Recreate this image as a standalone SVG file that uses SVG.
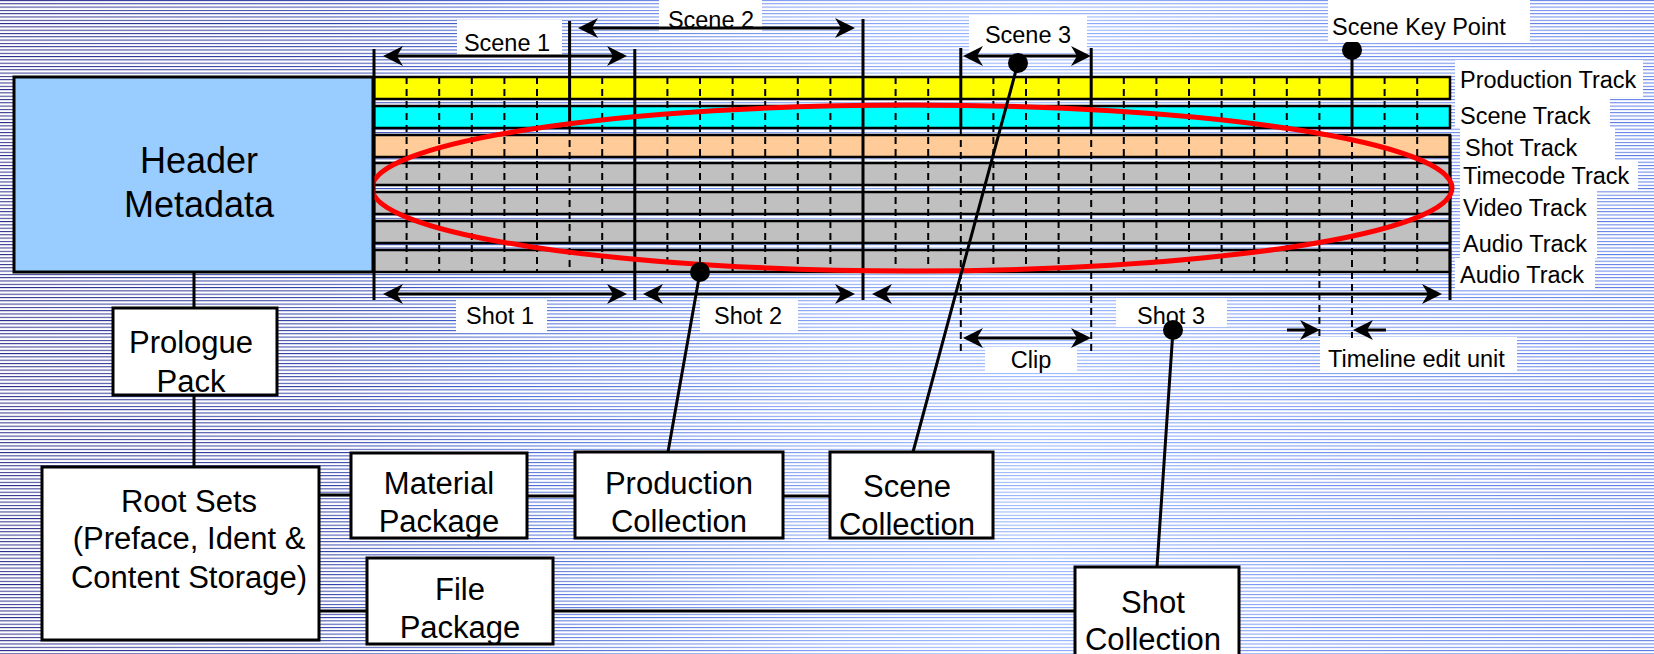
<svg xmlns="http://www.w3.org/2000/svg" width="1654" height="654" viewBox="0 0 1654 654">
<style>
text{font-family:"Liberation Sans",Arial,Helvetica,sans-serif;fill:#000}
.big{font-size:36px;text-anchor:middle}
.box{font-size:31px;text-anchor:middle}
.lbl{font-size:23.5px}
.mid{text-anchor:middle}
.nb{fill:#fff;stroke:#000;stroke-width:3}
.wb{fill:#fff}
.trk{stroke:#000;stroke-width:2.5}
.ln{stroke:#000;stroke-width:3;fill:none}
.dash{stroke:#000;stroke-width:2;fill:none;stroke-dasharray:7 5}
.arr{stroke:#000;stroke-width:3;fill:none;marker-start:url(#ah);marker-end:url(#ah)}
.arr1{stroke:#000;stroke-width:3;fill:none;marker-end:url(#ah)}
.dot{fill:#000}
</style>
<defs>
<linearGradient id="bgGrad" x1="0" y1="0" x2="1" y2="0">
<stop offset="0" stop-color="#2a2a8a"/>
<stop offset="0.2" stop-color="#3040a8"/>
<stop offset="0.3" stop-color="#4262d2"/>
<stop offset="0.5" stop-color="#7f9ff5"/>
<stop offset="0.62" stop-color="#8fb0ff"/>
<stop offset="0.8" stop-color="#7090f0"/>
<stop offset="1" stop-color="#5a7ae6"/>
</linearGradient>
<pattern id="stripes" patternUnits="userSpaceOnUse" width="20" height="3.3">
<rect x="0" y="1" width="20" height="2.3" fill="#fff"/>
</pattern>
<marker id="ah" viewBox="0 -10 20 20" refX="14" refY="0" markerWidth="20" markerHeight="20" markerUnits="userSpaceOnUse" orient="auto-start-reverse">
<path d="M20,0 L0,-10 L6,0 L0,10 Z" fill="#000"/>
</marker>
</defs>

<g id="background">
<rect x="0" y="0" width="1654" height="654" fill="url(#bgGrad)"/>
<rect x="0" y="0" width="1654" height="654" fill="url(#stripes)"/>
</g>

<g id="label-backgrounds">
<rect class="wb" x="457" y="20" width="105" height="35"/>
<rect class="wb" x="659" y="0" width="103" height="33"/>
<rect class="wb" x="969" y="15" width="118" height="38"/>
<rect class="wb" x="1455" y="60" width="188" height="37"/>
<rect class="wb" x="1455" y="97" width="155" height="31"/>
<rect class="wb" x="1460" y="128" width="155" height="32"/>
<rect class="wb" x="1460" y="160" width="178" height="30"/>
<rect class="wb" x="1460" y="190" width="137" height="35"/>
<rect class="wb" x="1460" y="225" width="137" height="33"/>
<rect class="wb" x="1455" y="258" width="140" height="32"/>
<rect class="wb" x="456" y="299" width="91" height="33"/>
<rect class="wb" x="700" y="299" width="98" height="33"/>
<rect class="wb" x="1116" y="298" width="111" height="29"/>
<rect class="wb" x="985" y="347" width="92" height="26"/>
<rect class="wb" x="1320" y="337" width="197" height="36"/>
</g>

<g id="tracks">
<rect class="trk" x="374" y="77" width="1076" height="22" fill="#ffff00"/>
<rect class="trk" x="374" y="106" width="1076" height="22" fill="#00ffff"/>
<rect class="trk" x="374" y="135" width="1076" height="22" fill="#ffcc99"/>
<rect class="trk" x="374" y="163" width="1076" height="22" fill="#c0c0c0"/>
<rect class="trk" x="374" y="192" width="1076" height="22" fill="#c0c0c0"/>
<rect class="trk" x="374" y="221" width="1076" height="22" fill="#c0c0c0"/>
<rect class="trk" x="374" y="250" width="1076" height="22" fill="#c0c0c0"/>
</g>

<g id="grid">
<path class="dash" d="M406.6 77V273 M439.2 77V273 M471.8 77V273 M504.4 77V273 M537 77V273 M569.6 128V273 M602.2 77V273 M667.4 77V273 M700 77V273 M732.6 77V273 M765.2 77V273 M797.8 77V273 M830.4 77V273 M895.6 77V273 M928.2 77V273 M960.8 128V352 M993.4 77V273 M1026 77V273 M1058.6 77V273 M1091.2 128V352 M1123.8 77V273 M1156.4 77V273 M1189 77V273 M1221.6 77V273 M1254.2 77V273 M1286.8 77V273 M1319.4 77V338 M1352 128V338 M1384.6 77V273 M1417.2 77V273"/>
<path class="ln" d="M374 49V300 M569.6 21V128 M634.8 49V300 M863 19V300 M960.8 48V128 M1091.2 48V128 M1450 135V300"/>
</g>

<g id="highlight">
<ellipse cx="912" cy="188" rx="540" ry="83" fill="none" stroke="#ff0000" stroke-width="5"/>
</g>

<g id="dimensions">
<line class="arr" x1="389" y1="56" x2="621" y2="56"/>
<line class="arr" x1="584" y1="28" x2="849" y2="28"/>
<line class="arr" x1="969" y1="56" x2="1085" y2="56"/>
<line class="arr" x1="389" y1="294" x2="621" y2="294"/>
<line class="arr" x1="649" y1="294" x2="849" y2="294"/>
<line class="arr" x1="878" y1="294" x2="1436" y2="294"/>
<line class="arr" x1="969" y1="338" x2="1085" y2="338"/>
<line class="arr1" x1="1287" y1="330" x2="1314" y2="330"/>
<line class="arr1" x1="1386" y1="330" x2="1359" y2="330"/>
</g>

<g id="timeline-labels">
<text class="lbl mid" x="507" y="51">Scene 1</text>
<text class="lbl mid" x="711" y="28">Scene 2</text>
<text class="lbl mid" x="1028" y="43">Scene 3</text>
<text class="lbl" x="1460" y="88">Production Track</text>
<text class="lbl" x="1460" y="124">Scene Track</text>
<text class="lbl" x="1465" y="156">Shot Track</text>
<text class="lbl" x="1463" y="184">Timecode Track</text>
<text class="lbl" x="1463" y="216">Video Track</text>
<text class="lbl" x="1463" y="252">Audio Track</text>
<text class="lbl" x="1460" y="283">Audio Track</text>
<text class="lbl mid" x="500" y="324">Shot 1</text>
<text class="lbl mid" x="748" y="324">Shot 2</text>
<text class="lbl mid" x="1171" y="324">Shot 3</text>
<text class="lbl mid" x="1031" y="368">Clip</text>
<text class="lbl" x="1328" y="367">Timeline edit unit</text>
</g>

<g id="connectors">
<path class="ln" d="M194 272V308 M194 395V467 M319 495H351 M527 496H575 M783 496H830 M319 611H367 M553 611H1075"/>
<path class="ln" d="M700 272L668 452 M1018 63L913 452 M1173 330L1157 567 M1352 50V128"/>
<circle class="dot" cx="700" cy="272" r="10"/>
<circle class="dot" cx="1018" cy="63" r="10"/>
<circle class="dot" cx="1173" cy="330" r="10"/>
<circle class="dot" cx="1352" cy="50" r="10"/>
</g>

<g id="key-point-label">
<rect class="wb" x="1328" y="0" width="202" height="42"/>
<text class="lbl" x="1332" y="35">Scene Key Point</text>
</g>

<g id="header-metadata">
<rect x="14" y="77" width="359" height="195" fill="#99ccff" stroke="#000" stroke-width="3"/>
<text class="big" x="199" y="173">Header</text>
<text class="big" x="199" y="217">Metadata</text>
</g>

<g id="prologue-pack">
<rect class="nb" x="113" y="308" width="164" height="87"/>
<text class="box" x="191" y="353">Prologue</text>
<text class="box" x="191" y="392">Pack</text>
</g>

<g id="root-sets">
<rect class="nb" x="42" y="467" width="277" height="173"/>
<text class="box" x="189" y="512">Root Sets</text>
<text class="box" x="189" y="549">(Preface, Ident &amp;</text>
<text class="box" x="189" y="588">Content Storage)</text>
</g>

<g id="material-package">
<rect class="nb" x="351" y="453" width="176" height="85"/>
<text class="box" x="439" y="494">Material</text>
<text class="box" x="439" y="532">Package</text>
</g>

<g id="file-package">
<rect class="nb" x="367" y="558" width="186" height="86"/>
<text class="box" x="460" y="600">File</text>
<text class="box" x="460" y="638">Package</text>
</g>

<g id="production-collection">
<rect class="nb" x="575" y="452" width="208" height="86"/>
<text class="box" x="679" y="494">Production</text>
<text class="box" x="679" y="532">Collection</text>
</g>

<g id="scene-collection">
<rect class="nb" x="830" y="452" width="163" height="86"/>
<text class="box" x="907" y="497">Scene</text>
<text class="box" x="907" y="535">Collection</text>
</g>

<g id="shot-collection">
<rect class="nb" x="1075" y="567" width="164" height="120"/>
<text class="box" x="1153" y="613">Shot</text>
<text class="box" x="1153" y="650">Collection</text>
</g>
</svg>
